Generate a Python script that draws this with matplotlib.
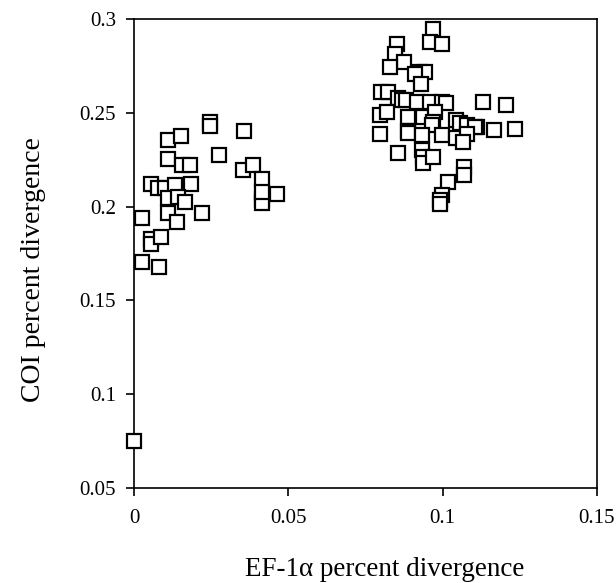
import matplotlib
matplotlib.use("Agg")
import matplotlib.pyplot as plt
from matplotlib.ticker import FuncFormatter

# EF-1a vs COI pairwise divergence
ef1a = [
    # low-divergence cluster
    0.0, 0.0027, 0.0081, 0.0027, 0.0054, 0.0054, 0.0086,
    0.0054, 0.0079, 0.0100, 0.0133, 0.0184, 0.0111, 0.0144, 0.0165,
    0.0109, 0.0138, 0.0219, 0.0109, 0.0152, 0.0109, 0.0154, 0.0181,
    0.0246, 0.0246, 0.0274, 0.0355, 0.0354, 0.0387, 0.0416, 0.0416,
    0.0416, 0.0416, 0.0462,
    # high-divergence cluster
    0.0968, 0.0959, 0.0997, 0.0853, 0.0846, 0.0876, 0.0830, 0.0927,
    0.0943, 0.0910, 0.0930, 0.0802, 0.0823, 0.0855, 0.0868, 0.0883,
    0.0916, 0.0959, 0.0997, 0.1012, 0.1132, 0.1207, 0.0797, 0.0819,
    0.0888, 0.0937, 0.0975, 0.0970, 0.0965, 0.1045, 0.1056, 0.1078,
    0.1110, 0.1105, 0.1165, 0.1235, 0.0797, 0.0888, 0.0888, 0.0932,
    0.0997, 0.1045, 0.1078, 0.1067, 0.0856, 0.0932, 0.0937, 0.0935,
    0.0969, 0.1070, 0.1070, 0.1018, 0.0997, 0.0991, 0.0991,
]
coi = [
    0.075, 0.1706, 0.168, 0.1938, 0.183, 0.180, 0.1836,
    0.2119, 0.210, 0.210, 0.2115, 0.2119, 0.2044, 0.2053, 0.2026,
    0.1964, 0.192, 0.1964, 0.2355, 0.2376, 0.2254, 0.2222, 0.2222,
    0.245, 0.243, 0.2277, 0.2405, 0.2195, 0.2225, 0.2146, 0.2040,
    0.2018, 0.2080, 0.2067,
    0.295, 0.2876, 0.287, 0.287, 0.2817, 0.2773, 0.2746, 0.272,
    0.272, 0.271, 0.2657, 0.2612, 0.2612, 0.258, 0.257, 0.257,
    0.256, 0.256, 0.256, 0.2554, 0.256, 0.2545, 0.2488, 0.2506,
    0.248, 0.248, 0.2506, 0.245, 0.2435, 0.2462, 0.2444, 0.2435,
    0.2426, 0.2426, 0.2408, 0.2417, 0.239, 0.2405, 0.2392, 0.2382,
    0.2382, 0.2364, 0.239, 0.2346, 0.2284, 0.2302, 0.2266, 0.2231,
    0.2266, 0.2213, 0.2168, 0.2133, 0.2062, 0.2035, 0.2015,
]

xticks = [0, 0.05, 0.1, 0.15]
yticks = [0.05, 0.1, 0.15, 0.2, 0.25, 0.3]

plt.rcParams['font.family'] = ['Liberation Serif', 'DejaVu Serif']

fig = plt.figure(figsize=(6.16, 5.83), dpi=100)
ax = fig.add_axes([0.2175, 0.163, 0.7515, 0.804])

ax.plot(ef1a, coi, linestyle='none', marker='s', markersize=10,
        markerfacecolor='white', markeredgecolor='black', markeredgewidth=1.6,
        clip_on=False, zorder=3)

ax.set_xlim(0, 0.15)
ax.set_ylim(0.05, 0.3)
ax.set_xticks(xticks)
ax.set_yticks(yticks)
fmt = FuncFormatter(lambda v, p: '%g' % round(v, 3))
ax.xaxis.set_major_formatter(fmt)
ax.yaxis.set_major_formatter(fmt)
ax.tick_params(direction='out', length=6, width=1.2, labelsize=15)
ax.tick_params(axis='x', pad=9)
ax.tick_params(axis='y', pad=7)
for s in ax.spines.values():
    s.set_linewidth(1.2)

ax.set_xlabel('EF-1\u03b1 percent divergence', fontsize=19.5, labelpad=21)
ax.set_ylabel('COI percent divergence', fontsize=20, labelpad=24)
ax.xaxis.label.set_x(0.542)
ax.yaxis.label.set_y(0.465)

fig.savefig('out.png', dpi=100)
